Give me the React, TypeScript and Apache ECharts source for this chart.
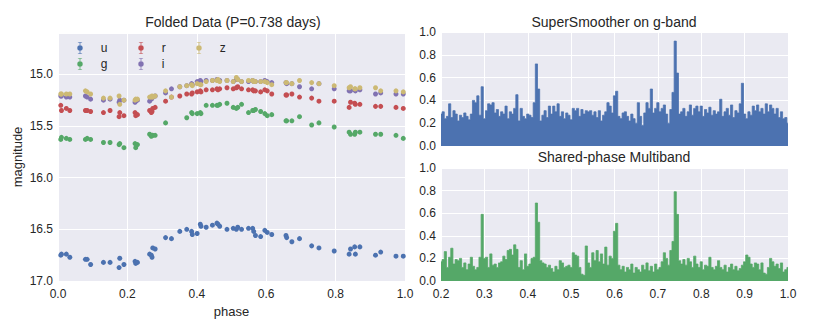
import React, { useEffect, useRef } from "react";
import * as echarts from "echarts";

// ---------- Folded light-curve data (shared phases for all bands) ----------
const phase = [
  0.008, 0.010, 0.024, 0.034, 0.079, 0.084, 0.094, 0.131, 0.150, 0.176,
  0.178, 0.190, 0.222, 0.224, 0.229, 0.264, 0.269, 0.271, 0.273, 0.280,
  0.310, 0.327, 0.351, 0.371, 0.385, 0.387, 0.401, 0.410, 0.412, 0.427,
  0.445, 0.458, 0.461, 0.466, 0.487, 0.505, 0.514, 0.518, 0.529, 0.549,
  0.561, 0.564, 0.569, 0.584, 0.596, 0.603, 0.616, 0.657, 0.659, 0.674,
  0.696, 0.731, 0.752, 0.796, 0.839, 0.843, 0.855, 0.857, 0.870, 0.915,
  0.930, 0.974, 0.995,
];

const magU = [
  16.75, 16.74, 16.74, 16.77, 16.79, 16.79, 16.84, 16.82, 16.82, 16.87,
  16.78, 16.84, 16.81, 16.83, 16.82, 16.74, 16.75, 16.77, 16.68, 16.69,
  16.58, 16.59, 16.52, 16.50, 16.52, 16.55, 16.54, 16.45, 16.47, 16.48,
  16.46, 16.44, 16.45, 16.47, 16.50, 16.49, 16.50, 16.48, 16.50, 16.49,
  16.49, 16.52, 16.56, 16.57, 16.51, 16.53, 16.55, 16.56, 16.58, 16.62,
  16.59, 16.66, 16.68, 16.71, 16.74, 16.69, 16.67, 16.74, 16.67, 16.75,
  16.72, 16.76, 16.76,
];

const magG = [
  15.63, 15.61, 15.62, 15.63, 15.63, 15.62, 15.63, 15.66, 15.66, 15.68,
  15.67, 15.71, 15.67, 15.71, 15.68, 15.58, 15.60, 15.59, 15.59, 15.59,
  15.47, null, null, 15.42, 15.37, 15.38, 15.38, 15.37, 15.38, 15.30,
  15.30, 15.30, 15.30, 15.29, 15.28, 15.32, 15.33, 15.32, 15.29, 15.37,
  15.35, 15.35, 15.34, 15.36, 15.38, 15.40, 15.39, 15.45, 15.45, 15.45,
  15.41, 15.49, 15.47, 15.51, 15.56, 15.58, 15.58, 15.56, 15.56, 15.58,
  15.58, 15.59, 15.62,
];

const magR = [
  15.30, 15.35, 15.33, 15.35, 15.35, 15.35, 15.36, 15.37, 15.35, 15.41,
  15.37, 15.40, 15.37, 15.40, 15.39, 15.35, 15.37, 15.36, 15.33, 15.32,
  15.26, 15.22, 15.21, 15.19, 15.19, 15.18, 15.17, 15.16, 15.17, 15.15,
  15.15, 15.14, 15.15, 15.14, 15.13, 15.14, 15.13, 15.12, 15.14, 15.15,
  15.15, 15.16, 15.16, 15.17, 15.15, 15.16, 15.19, 15.20, 15.20, 15.19,
  15.22, 15.23, 15.26, 15.26, 15.32, 15.27, 15.28, 15.29, 15.29, 15.31,
  15.31, 15.32, 15.33,
];

const magI = [
  15.21, 15.21, 15.22, 15.22, 15.21, 15.22, 15.24, 15.25, 15.24, 15.27,
  15.25, 15.25, 15.27, 15.26, 15.25, 15.26, 15.24, 15.23, 15.22, 15.21,
  15.18, 15.14, 15.12, 15.11, 15.09, 15.10, 15.07, 15.06, 15.07, 15.06,
  15.06, 15.05, 15.06, 15.06, 15.06, 15.07, 15.05, 15.05, 15.07, 15.07,
  15.06, 15.07, 15.07, 15.07, 15.06, 15.07, 15.08, 15.08, 15.09, 15.09,
  15.12, 15.14, 15.09, 15.14, 15.16, 15.16, 15.15, 15.16, 15.15, 15.19,
  15.18, 15.19, 15.19,
];

const magZ = [
  15.19, 15.19, 15.19, 15.19, 15.16, 15.17, 15.19, 15.23, 15.23, 15.21,
  15.29, 15.25, 15.25, 15.24, 15.24, 15.22, 15.22, 15.21, 15.22, 15.21,
  15.16, 15.22, 15.12, 15.11, 15.10, 15.11, 15.09, 15.10, 15.10, 15.07,
  15.06, 15.06, 15.05, 15.07, 15.06, 15.07, 15.03, 15.05, 15.07, 15.06,
  15.06, 15.07, 15.07, 15.07, 15.07, 15.08, 15.10, 15.08, 15.08, 15.09,
  15.06, 15.08, 15.09, 15.11, 15.13, 15.12, 15.14, 15.14, 15.13, 15.13,
  15.16, 15.16, 15.17,
];

const bandNames = ["u", "g", "r", "i", "z"];
const bandMags = [magU, magG, magR, magI, magZ];

// ---------- Periodograms (period grid 0.2 .. 1.0, step 0.005) ----------
const periodStart = 0.2;
const periodStep = 0.005;

const powerSuperSmoother = [
  0.28, 0.30, 0.24, 0.26, 0.37, 0.25, 0.31, 0.28, 0.22, 0.27,
  0.25, 0.29, 0.26, 0.23, 0.28, 0.40, 0.38, 0.44, 0.27, 0.52,
  0.24, 0.31, 0.37, 0.36, 0.38, 0.29, 0.32, 0.26, 0.30, 0.28,
  0.35, 0.24, 0.30, 0.28, 0.33, 0.45, 0.22, 0.33, 0.26, 0.24,
  0.28, 0.27, 0.25, 0.38, 0.72, 0.50, 0.22, 0.27, 0.31, 0.25,
  0.35, 0.28, 0.35, 0.30, 0.37, 0.26, 0.30, 0.24, 0.29, 0.27,
  0.23, 0.33, 0.31, 0.33, 0.26, 0.32, 0.28, 0.31, 0.30, 0.31,
  0.27, 0.30, 0.25, 0.31, 0.22, 0.27, 0.30, 0.38, 0.35, 0.29,
  0.44, 0.48, 0.26, 0.24, 0.29, 0.30, 0.26, 0.22, 0.28, 0.24,
  0.20, 0.38, 0.26, 0.18, 0.29, 0.38, 0.33, 0.50, 0.29, 0.33,
  0.38, 0.30, 0.33, 0.36, 0.28, 0.20, 0.32, 0.47, 0.92, 0.64,
  0.28, 0.30, 0.33, 0.26, 0.30, 0.36, 0.27, 0.33, 0.35, 0.30,
  0.35, 0.26, 0.32, 0.29, 0.34, 0.27, 0.31, 0.28, 0.30, 0.41,
  0.26, 0.30, 0.33, 0.27, 0.36, 0.25, 0.31, 0.29, 0.37, 0.55,
  0.28, 0.24, 0.30, 0.27, 0.35, 0.31, 0.36, 0.30, 0.33, 0.28,
  0.37, 0.30, 0.36, 0.33, 0.28, 0.33, 0.25, 0.30, 0.24, 0.25,
  0.20,
];

const powerMultiband = [
  0.17, 0.19, 0.26, 0.12, 0.21, 0.29, 0.15, 0.19, 0.18, 0.20,
  0.12, 0.16, 0.10, 0.15, 0.21, 0.13, 0.10, 0.12, 0.21, 0.59,
  0.20, 0.21, 0.12, 0.24, 0.14, 0.15, 0.12, 0.16, 0.17, 0.22,
  0.19, 0.27, 0.28, 0.23, 0.32, 0.28, 0.12, 0.18, 0.10, 0.24,
  0.13, 0.15, 0.20, 0.21, 0.69, 0.52, 0.18, 0.16, 0.15, 0.12,
  0.14, 0.11, 0.08, 0.13, 0.10, 0.18, 0.16, 0.12, 0.13, 0.14,
  0.12, 0.25, 0.23, 0.22, 0.12, 0.06, 0.05, 0.31, 0.16, 0.12,
  0.25, 0.18, 0.27, 0.17, 0.24, 0.15, 0.30, 0.14, 0.22, 0.20,
  0.44, 0.51, 0.14, 0.10, 0.13, 0.08, 0.12, 0.10, 0.15, 0.07,
  0.12, 0.10, 0.08, 0.14, 0.10, 0.16, 0.09, 0.13, 0.08, 0.15,
  0.10, 0.12, 0.17, 0.25, 0.20, 0.14, 0.27, 0.35, 0.79, 0.59,
  0.18, 0.15, 0.19, 0.14, 0.20, 0.17, 0.12, 0.22, 0.15, 0.12,
  0.17, 0.10, 0.14, 0.13, 0.21, 0.12, 0.10, 0.13, 0.18, 0.12,
  0.10, 0.14, 0.08, 0.12, 0.15, 0.10, 0.13, 0.09, 0.11, 0.14,
  0.17, 0.23, 0.21, 0.15, 0.12, 0.16, 0.15, 0.10, 0.16, 0.07,
  0.06, 0.12, 0.20, 0.17, 0.13, 0.15, 0.11, 0.16, 0.08, 0.10,
  0.12,
];

// ---------- Styling ----------
const FONT = "'Liberation Sans', Arial, sans-serif";
const TXT = "#262626";
const BG = "#EAEAF2";
const TICK_FS = 12;
const bandColors = ["#4C72B0", "#55A868", "#C44E52", "#8172B2", "#CCB974"];
const legendSpots: Record<string, [number, number]> = {
  u: [77.3, 42],
  g: [77.3, 58],
  r: [138.3, 42],
  i: [138.3, 58],
  z: [196.3, 42],
};
const errIcon =
  "path://M1.5,0L8.5,0L8.5,1L1.5,1Z M4.4,0L5.6,0L5.6,20L4.4,20Z M1.5,19L8.5,19L8.5,20L1.5,20Z M0.5,10A4.5,4.5 0 1 1 9.5,10A4.5,4.5 0 1 1 0.5,10Z";

const fmt1 = (v: number) => v.toFixed(1);

export default function App() {
  const ref = useRef<HTMLDivElement>(null);

  useEffect(() => {
    if (!ref.current) return;
    const chart = echarts.init(ref.current, undefined, { renderer: "svg" });

    const axisCommon = {
      type: "value" as const,
      axisLine: { show: false },
      axisTick: { show: false },
      splitLine: { show: true, lineStyle: { color: "#ffffff", width: 1 } },
      axisLabel: { color: TXT, fontSize: TICK_FS, fontFamily: FONT, formatter: fmt1 },
    };

    const scatterSeries = bandNames.map((name, k) => ({
      type: "scatter" as const,
      name,
      xAxisIndex: 0,
      yAxisIndex: 0,
      symbol: "circle",
      symbolSize: 5,
      itemStyle: { color: bandColors[k], opacity: 1 },
      data: phase
        .map((p, i) => [p, bandMags[k][i]])
        .filter((d) => d[1] != null),
      z: 2 + k,
    }));

    const legends = bandNames.map((name) => ({
      data: [name],
      left: legendSpots[name][0],
      top: legendSpots[name][1],
      padding: 0,
      itemWidth: 5.5,
      itemHeight: 12,
      icon: errIcon,
      selectedMode: false,
      textStyle: { color: TXT, fontSize: 12, fontFamily: FONT, padding: [0, 0, 0, 13] },
    }));

    const periodogram = (name: string, values: number[], color: string, idx: number) => ({
      type: "line" as const,
      name,
      xAxisIndex: idx,
      yAxisIndex: idx,
      showSymbol: false,
      symbol: "none",
      step: "middle" as const,
      lineStyle: { color, width: 0.8 },
      areaStyle: { color, opacity: 1 },
      data: values.map((v, i) => [periodStart + i * periodStep, v]),
    });

    chart.setOption({
      animation: false,
      backgroundColor: "#ffffff",
      textStyle: { fontFamily: FONT },
      legend: legends,
      grid: [
        { left: 58, top: 33, width: 347, height: 248, show: true, backgroundColor: BG, borderWidth: 0 },
        { left: 441, top: 32, width: 347, height: 114, show: true, backgroundColor: BG, borderWidth: 0 },
        { left: 441, top: 168, width: 347, height: 113, show: true, backgroundColor: BG, borderWidth: 0 },
      ],
      xAxis: [
        {
          ...axisCommon,
          gridIndex: 0,
          min: 0,
          max: 1,
          interval: 0.2,
          name: "phase",
          nameLocation: "middle",
          nameGap: 21,
          nameTextStyle: { color: TXT, fontSize: 13, fontFamily: FONT },
          axisLabel: { ...axisCommon.axisLabel, margin: 7 },
        },
        {
          ...axisCommon,
          gridIndex: 1,
          min: 0.2,
          max: 1,
          interval: 0.1,
          axisLabel: { show: false },
        },
        {
          ...axisCommon,
          gridIndex: 2,
          min: 0.2,
          max: 1,
          interval: 0.1,
          axisLabel: { ...axisCommon.axisLabel, margin: 7 },
        },
      ],
      yAxis: [
        {
          ...axisCommon,
          gridIndex: 0,
          inverse: true,
          min: 14.6,
          max: 17,
          splitNumber: 5,
          name: "magnitude",
          nameLocation: "middle",
          nameGap: 34,
          nameRotate: 90,
          nameTextStyle: { color: TXT, fontSize: 13, fontFamily: FONT },
          axisLabel: { ...axisCommon.axisLabel, margin: 5, showMinLabel: false },
        },
        {
          ...axisCommon,
          gridIndex: 1,
          min: 0,
          max: 1,
          interval: 0.2,
          axisLabel: { ...axisCommon.axisLabel, margin: 5 },
        },
        {
          ...axisCommon,
          gridIndex: 2,
          min: 0,
          max: 1,
          interval: 0.2,
          axisLabel: { ...axisCommon.axisLabel, margin: 5 },
        },
      ],
      graphic: [
        {
          type: "text",
          x: 233,
          y: 22,
          style: { text: "Folded Data (P=0.738 days)", fill: TXT, font: `14px ${FONT}`, textAlign: "center", textVerticalAlign: "middle" },
        },
        {
          type: "text",
          x: 614,
          y: 22,
          style: { text: "SuperSmoother on g-band", fill: TXT, font: `14px ${FONT}`, textAlign: "center", textVerticalAlign: "middle" },
        },
        {
          type: "text",
          x: 614,
          y: 157,
          style: { text: "Shared-phase Multiband", fill: TXT, font: `14px ${FONT}`, textAlign: "center", textVerticalAlign: "middle" },
        },
      ],
      series: [
        ...scatterSeries,
        periodogram("SuperSmoother", powerSuperSmoother, "#4C72B0", 1),
        periodogram("Multiband", powerMultiband, "#55A868", 2),
      ],
    });

    return () => chart.dispose();
  }, []);

  return (
    <div
      ref={ref}
      style={{ position: "fixed", left: 0, top: 0, width: 830, height: 332, background: "#fff" }}
    />
  );
}
